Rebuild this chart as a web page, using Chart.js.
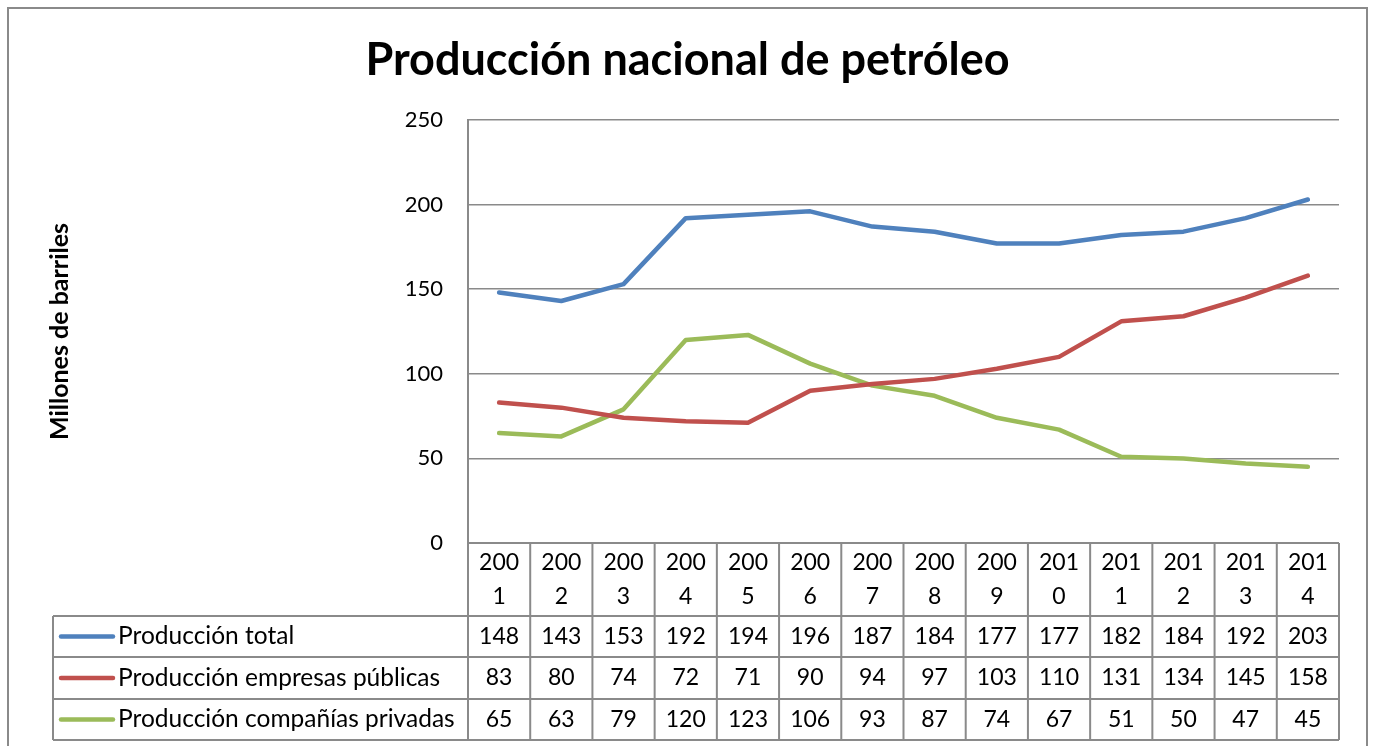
<!DOCTYPE html>
<html>
<head>
<meta charset="utf-8">
<script src="https://cdn.jsdelivr.net/npm/chart.js@4/dist/chart.umd.min.js"></script>
<style>
  html, body { margin: 0; padding: 0; background: #fff; }
  #wrap { width: 1375px; height: 746px; position: relative; }
</style>
</head>
<body>
<div id="wrap"><canvas id="myChart"></canvas></div>
<script>
const years = ['2001', '2002', '2003', '2004', '2005', '2006', '2007', '2008', '2009', '2010', '2011', '2012', '2013', '2014'];
const totalValues = [148, 143, 153, 192, 194, 196, 187, 184, 177, 177, 182, 184, 192, 203];
const publicValues = [83, 80, 74, 72, 71, 90, 94, 97, 103, 110, 131, 134, 145, 158];
const privateValues = [65, 63, 79, 120, 123, 106, 93, 87, 74, 67, 51, 50, 47, 45];
const seriesNames = ['Producción total', 'Producción empresas públicas', 'Producción compañías privadas'];
const yTicks = [0, 50, 100, 150, 200, 250];

const colors = {
  blue: '#4f81bd',
  red: '#c0504d',
  green: '#9bbb59',
  grid: '#8a8a8a',
};

const FONT = 'Lato, "Open Sans", sans-serif';

// draws the data table under the plot, the y title and the outer frame
const tablePlugin = {
  id: 'dataTable',
  afterDraw(chart) {
    const ctx = chart.ctx;
    const x = chart.scales.x;
    const area = chart.chartArea;
    const rows = [543, 616, 657, 699, 740];
    const tableLeft = 53;
    const n = years.length;

    const bounds = [area.left];
    for (let i = 1; i < n; i++) {
      bounds.push((x.getPixelForValue(i - 1) + x.getPixelForValue(i)) / 2);
    }
    bounds.push(area.right);

    ctx.save();
    ctx.strokeStyle = colors.grid;
    ctx.lineWidth = 2;

    // outer frame
    ctx.strokeRect(8, 8, 1359, 760);

    // horizontal table lines
    ctx.beginPath();
    ctx.moveTo(area.left, rows[0]);
    ctx.lineTo(area.right, rows[0]);
    for (let r = 1; r < rows.length; r++) {
      ctx.moveTo(tableLeft, rows[r]);
      ctx.lineTo(area.right, rows[r]);
    }
    // vertical table lines
    bounds.forEach(b => {
      ctx.moveTo(b, rows[0]);
      ctx.lineTo(b, rows[rows.length - 1]);
    });
    ctx.moveTo(tableLeft, rows[1]);
    ctx.lineTo(tableLeft, rows[rows.length - 1]);
    ctx.stroke();

    // year headers, split in two lines like the original
    ctx.fillStyle = '#000';
    ctx.font = '23px ' + FONT;
    ctx.textAlign = 'center';
    ctx.textBaseline = 'middle';
    years.forEach((yr, i) => {
      const cx = x.getPixelForValue(i);
      ctx.fillText(yr.slice(0, 3), cx, 563);
      ctx.fillText(yr.slice(3), cx, 597);
    });

    // series rows
    const rowColors = [colors.blue, colors.red, colors.green];
    const rowValues = [totalValues, publicValues, privateValues];
    rowValues.forEach((vals, r) => {
      const cy = (rows[r + 1] + rows[r + 2]) / 2;
      ctx.strokeStyle = rowColors[r];
      ctx.lineWidth = 4.5;
      ctx.lineCap = 'round';
      ctx.beginPath();
      ctx.moveTo(61, cy);
      ctx.lineTo(113, cy);
      ctx.stroke();

      ctx.textAlign = 'left';
      ctx.font = '24.5px ' + FONT;
      ctx.fillText(seriesNames[r], 118, cy);
      ctx.textAlign = 'center';
      ctx.font = '23px ' + FONT;
      vals.forEach((v, i) => ctx.fillText(String(v), x.getPixelForValue(i), cy));
    });

    // y axis title
    ctx.translate(60, (area.top + area.bottom) / 2);
    ctx.rotate(-Math.PI / 2);
    ctx.font = 'bold 25px ' + FONT;
    ctx.textAlign = 'center';
    ctx.fillText('Millones de barriles', 0, 0);
    ctx.restore();
  },
};

const ctx = document.getElementById('myChart').getContext('2d');

const lineStyle = {
  fill: false,
  borderWidth: 4.5,
  pointRadius: 0,
  tension: 0,
  borderJoinStyle: 'round',
  borderCapStyle: 'round',
};

new Chart(ctx, {
  type: 'line',
  data: {
    labels: years,
    datasets: [
      { label: seriesNames[0], data: totalValues, borderColor: colors.blue, ...lineStyle },
      { label: seriesNames[1], data: publicValues, borderColor: colors.red, ...lineStyle },
      { label: seriesNames[2], data: privateValues, borderColor: colors.green, ...lineStyle },
    ],
  },
  options: {
    responsive: true,
    maintainAspectRatio: false,
    animation: false,
    layout: { padding: { left: 36, right: 36, top: 0, bottom: 203 } },
    plugins: {
      legend: { display: false },
      tooltip: { enabled: false },
      title: {
        display: true,
        text: 'Producción nacional de petróleo',
        color: '#000',
        font: { family: FONT, size: 45, weight: 'bold', lineHeight: 1.2 },
        padding: { top: 33, bottom: 33 },
      },
    },
    scales: {
      x: {
        display: false,
        offset: true,
      },
      y: {
        min: 0,
        max: 250,
        afterBuildTicks(scale) {
          scale.ticks = yTicks.map(v => ({ value: v }));
        },
        afterFit(scale) {
          scale.width = 432;
        },
        grid: { color: colors.grid, lineWidth: 1.5, drawTicks: false },
        border: { display: true, color: colors.grid, width: 2 },
        ticks: {
          color: '#000',
          padding: 25,
          font: { family: FONT, size: 22 },
        },
      },
    },
  },
  plugins: [tablePlugin],
});
</script>
</body>
</html>
